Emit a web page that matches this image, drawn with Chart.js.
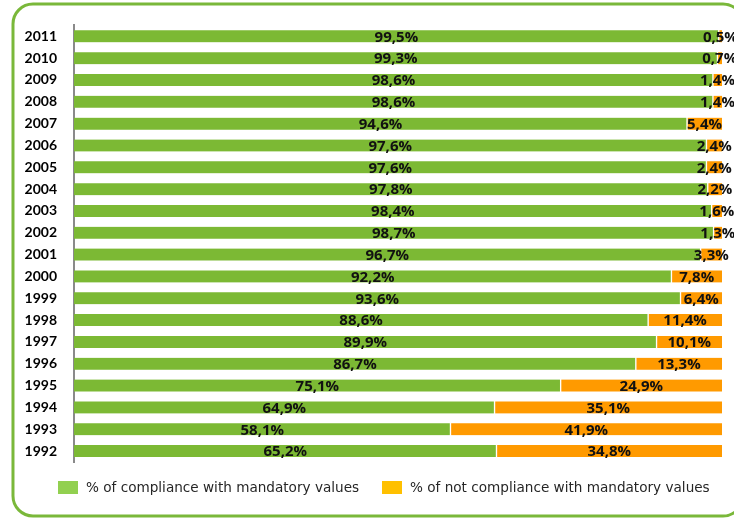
<!DOCTYPE html>
<html>
<head>
<meta charset="utf-8">
<script src="https://cdn.jsdelivr.net/npm/chart.js@4/dist/chart.umd.min.js"></script>
<style>
  html, body { margin: 0; padding: 0; background: #ffffff; }
  #wrap { width: 734px; height: 519px; position: relative; }
</style>
</head>
<body>
<div id="wrap"><canvas id="c" width="734" height="519"></canvas></div>
<script>
const years = ['2011','2010','2009','2008','2007','2006','2005','2004','2003','2002','2001','2000','1999','1998','1997','1996','1995','1994','1993','1992'];
const compliance = [99.5,99.3,98.6,98.6,94.6,97.6,97.6,97.8,98.4,98.7,96.7,92.2,93.6,88.6,89.9,86.7,75.1,64.9,58.1,65.2];
const nonCompliance = [0.5,0.7,1.4,1.4,5.4,2.4,2.4,2.2,1.6,1.3,3.3,7.8,6.4,11.4,10.1,13.3,24.9,35.1,41.9,34.8];
const seriesNames = ['% of compliance with mandatory values', '% of not compliance with mandatory values'];

const GREEN = '#7cb934';
const ORANGE = '#ff9a00';
const LEGEND_COLORS = ['#92d050', '#ffc000'];

const framePlugin = {
  id: 'frame',
  beforeDraw(chart) {
    const ctx = chart.ctx;
    ctx.save();
    ctx.strokeStyle = '#7ab83a';
    ctx.lineWidth = 3;
    const x = 13, y = 4, w = 730, h = 512, r = 20;
    ctx.beginPath();
    ctx.moveTo(x + r, y);
    ctx.lineTo(x + w - r, y);
    ctx.arcTo(x + w, y, x + w, y + r, r);
    ctx.lineTo(x + w, y + h - r);
    ctx.arcTo(x + w, y + h, x + w - r, y + h, r);
    ctx.lineTo(x + r, y + h);
    ctx.arcTo(x, y + h, x, y + h - r, r);
    ctx.lineTo(x, y + r);
    ctx.arcTo(x, y, x + r, y, r);
    ctx.closePath();
    ctx.stroke();
    ctx.restore();
  }
};

const legendPlugin = {
  id: 'manualLegend',
  afterDraw(chart) {
    const ctx = chart.ctx;
    ctx.save();
    ctx.font = '13.6px "DejaVu Sans"';
    ctx.textBaseline = 'middle';
    ctx.textAlign = 'left';
    const starts = [58, 382];
    const yMid = 488;
    chart.data.datasets.forEach((ds, i) => {
      ctx.fillStyle = LEGEND_COLORS[i];
      ctx.fillRect(starts[i], yMid - 7, 20, 13);
      ctx.fillStyle = '#262626';
      ctx.fillText(ds.label, starts[i] + 28, yMid);
    });
    ctx.restore();
  }
};

const labelPlugin = {
  id: 'valueLabels',
  afterDatasetsDraw(chart) {
    const ctx = chart.ctx;
    ctx.save();
    ctx.font = 'bold 15px "Open Sans", Lato, sans-serif';
    ctx.fillStyle = '#111111';
    ctx.textAlign = 'center';
    ctx.textBaseline = 'middle';
    chart.data.datasets.forEach((ds, di) => {
      const meta = chart.getDatasetMeta(di);
      meta.data.forEach((bar, i) => {
        const v = ds.data[i];
        const cx = (bar.x + bar.base) / 2;
        ctx.fillText(v.toFixed(1).replace('.', ',') + '%', cx, bar.y + 1);
      });
    });
    ctx.restore();
  }
};

new Chart(document.getElementById('c'), {
  type: 'bar',
  data: {
    labels: years,
    datasets: [
      { label: seriesNames[0], data: compliance, backgroundColor: GREEN, borderColor: '#ffffff',
        borderWidth: { top: 0, bottom: 0, left: 0, right: 1 }, borderSkipped: false, barThickness: 12 },
      { label: seriesNames[1], data: nonCompliance, backgroundColor: ORANGE, borderColor: '#ffffff',
        borderWidth: { top: 0, bottom: 0, left: 1, right: 0 }, borderSkipped: false, barThickness: 12 }
    ]
  },
  options: {
    indexAxis: 'y',
    responsive: false,
    animation: false,
    layout: { padding: { top: 23, left: 12, right: 12, bottom: 57 } },
    scales: {
      x: { stacked: true, min: 0, max: 100, display: false },
      y: {
        stacked: true,
        grid: { display: false, drawTicks: false },
        border: { display: true, color: '#8a8a8a', width: 2 },
        ticks: { color: '#000000', padding: 17, font: { family: 'Lato', weight: 'bold', size: 14 } },
        afterFit(scale) { scale.width = 62; }
      }
    },
    plugins: {
      legend: { display: false },
      tooltip: { enabled: false }
    }
  },
  plugins: [framePlugin, legendPlugin, labelPlugin]
});
</script>
</body>
</html>
